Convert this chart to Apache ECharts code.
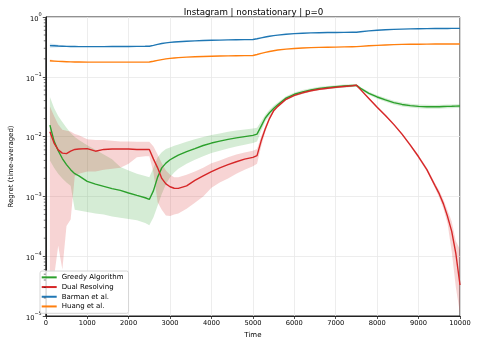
<!DOCTYPE html>
<html><head><meta charset="utf-8">
<script src="https://cdn.jsdelivr.net/npm/echarts@6/dist/echarts.min.js"></script>
<style>html,body{margin:0;padding:0;background:#fff}#c{width:478px;height:344px}</style>
</head><body><div id="c"></div>
<script>
const titleText = 'Instagram | nonstationary | p=0';
const seriesNames = ['Greedy Algorithm', 'Dual Resolving', 'Barman et al.', 'Huang et al.'];
const xTicks = [0,1000,2000,3000,4000,5000,6000,7000,8000,9000,10000];

const T = [100,200,300,400,500,600,700,800,1000,1200,1400,1600,1800,2000,2200,2400,2500,2600,2700,2800,2900,3000,3100,3200,3400,3600,3800,4000,4200,4400,4600,4800,5000,5100,5200,5300,5400,5500,5600,5800,6000,6200,6400,6600,6800,7000,7200,7400,7500,7600,7800,8000,8200,8400,8600,8800,9000,9200,9400,9500,9600,9700,9800,9900,10000];

const greedy = [0.0156,0.0084,0.0058,0.0043,0.0034,0.0028,0.0024,0.0022,0.00178,0.0016,0.00147,0.00135,0.00126,0.00114,0.00104,0.00095,0.00089,0.00125,0.0021,0.0030,0.0036,0.0041,0.0045,0.0049,0.0056,0.0063,0.0071,0.0078,0.0084,0.0090,0.0095,0.0100,0.0105,0.0110,0.0150,0.0205,0.0250,0.0295,0.0340,0.0440,0.0510,0.0560,0.0605,0.0640,0.0665,0.0685,0.0700,0.0715,0.0720,0.0640,0.0530,0.0460,0.0410,0.0370,0.0345,0.0330,0.0320,0.0316,0.0315,0.0316,0.0318,0.0320,0.0321,0.0323,0.0325];
const greedyLo = [0.004,0.003,0.0024,0.0020,0.0017,0.0015,0.0006,0.00058,0.00055,0.00052,0.0005,0.00046,0.00044,0.00042,0.0004,0.00036,0.00033,0.00045,0.0007,0.0011,0.0016,0.0021,0.0025,0.0029,0.0035,0.0041,0.0047,0.0053,0.0058,0.0063,0.0068,0.0073,0.0078,0.0083,0.0125,0.0180,0.0222,0.0265,0.031,0.0408,0.0475,0.0522,0.0566,0.0600,0.0625,0.0645,0.0662,0.0678,0.0685,0.0605,0.0498,0.0430,0.0382,0.0344,0.0320,0.0306,0.0297,0.0293,0.0292,0.0293,0.0295,0.0297,0.0298,0.0300,0.0302];
const greedyHi = [0.046,0.030,0.022,0.0175,0.014,0.0115,0.0098,0.0088,0.0072,0.0060,0.0050,0.0042,0.0031,0.0027,0.0024,0.0022,0.0021,0.0030,0.0045,0.0055,0.0062,0.0066,0.0070,0.0074,0.0082,0.0090,0.0098,0.0106,0.0113,0.0120,0.0126,0.0131,0.0136,0.0140,0.0180,0.0232,0.0280,0.0328,0.037,0.0473,0.0548,0.0600,0.0645,0.0680,0.0705,0.0725,0.0740,0.0753,0.0757,0.0677,0.0565,0.0493,0.0440,0.0398,0.0372,0.0355,0.0344,0.0340,0.0339,0.0340,0.0342,0.0344,0.0345,0.0347,0.0349];

const dual = [0.0121,0.0078,0.0060,0.0053,0.0052,0.0057,0.0061,0.0062,0.0063,0.0057,0.0061,0.0062,0.0062,0.0062,0.0061,0.0061,0.0061,0.0042,0.0030,0.0020,0.00162,0.00145,0.00137,0.00136,0.00150,0.00185,0.0022,0.0026,0.0030,0.0034,0.0038,0.0042,0.0045,0.0048,0.0085,0.0135,0.0200,0.0270,0.0320,0.0420,0.0490,0.0540,0.0585,0.0620,0.0645,0.0667,0.0690,0.0710,0.0725,0.0610,0.0435,0.0310,0.0225,0.0160,0.0110,0.0072,0.0046,0.0028,0.0015,0.0011,0.00075,0.00046,0.00026,0.00011,0.000033];
const dualLo = [0.00005,0.000045,0.00015,0.00006,0.00032,0.00041,0.0022,0.0024,0.0026,0.0026,0.0028,0.0029,0.0030,0.0035,0.0045,0.0047,0.0047,0.0025,0.0008,0.0006,0.00048,0.00047,0.0005,0.00052,0.00062,0.00078,0.0010,0.0014,0.0017,0.0020,0.0024,0.0028,0.0032,0.0035,0.0068,0.0120,0.0185,0.0255,0.0305,0.0402,0.0470,0.0518,0.0562,0.0596,0.0620,0.0641,0.0664,0.0683,0.0698,0.0587,0.0418,0.0298,0.0216,0.0153,0.0105,0.0068,0.0043,0.0026,0.00135,0.00095,0.00062,0.00035,0.00012,0.00003,0.000011];
const dualHi = [0.032,0.022,0.016,0.013,0.0125,0.0122,0.011,0.0105,0.0090,0.0088,0.0088,0.0085,0.0083,0.0083,0.0082,0.0082,0.0082,0.0068,0.0050,0.0036,0.0027,0.0023,0.0021,0.0021,0.0023,0.0026,0.0030,0.0036,0.0040,0.0045,0.0050,0.0054,0.0058,0.0062,0.0100,0.0150,0.0215,0.0285,0.0335,0.0438,0.0510,0.0562,0.0608,0.0644,0.0670,0.0693,0.0716,0.0737,0.0752,0.0633,0.0452,0.0322,0.0234,0.0167,0.0115,0.0076,0.0049,0.0030,0.00165,0.00125,0.00088,0.00058,0.00038,0.00018,0.00013];

const barman = [0.332,0.330,0.327,0.325,0.323,0.322,0.321,0.320,0.320,0.320,0.320,0.321,0.321,0.322,0.323,0.324,0.325,0.335,0.348,0.360,0.370,0.377,0.382,0.386,0.393,0.399,0.404,0.408,0.411,0.414,0.416,0.418,0.420,0.432,0.447,0.462,0.476,0.488,0.498,0.515,0.527,0.536,0.542,0.546,0.549,0.551,0.553,0.555,0.556,0.566,0.585,0.600,0.612,0.621,0.628,0.633,0.637,0.640,0.642,0.643,0.644,0.644,0.645,0.645,0.646];
const huang = [0.185,0.183,0.181,0.180,0.179,0.178,0.177,0.177,0.176,0.176,0.176,0.176,0.176,0.176,0.176,0.176,0.177,0.182,0.188,0.194,0.199,0.203,0.206,0.209,0.213,0.216,0.219,0.221,0.223,0.224,0.225,0.226,0.227,0.236,0.246,0.256,0.265,0.273,0.280,0.290,0.298,0.303,0.307,0.310,0.312,0.314,0.316,0.318,0.319,0.323,0.330,0.336,0.341,0.345,0.348,0.350,0.351,0.352,0.353,0.353,0.353,0.354,0.354,0.354,0.354];

const startT = [100,200,300,400,500,600,700,800,1000];
const barmanLo = [0.305,0.310,0.313,0.315,0.316,0.317,0.317,0.317,0.317];
const barmanHi = [0.362,0.352,0.343,0.336,0.331,0.328,0.325,0.323,0.323];
const huangLo = [0.176,0.177,0.177,0.177,0.177,0.176,0.175,0.175,0.174];
const huangHi = [0.196,0.190,0.186,0.184,0.182,0.180,0.179,0.179,0.178];

const colors = ['#2ca02c', '#d62728', '#1f77b4', '#ff7f0e'];
const FONT = 'DejaVu Sans';

function band(xs, lo, hi, fill) {
  return {
    type: 'custom', silent: true, z: 1,
    data: [[xs[0], hi[0]]],
    renderItem: function (params, api) {
      const pts = [];
      for (let i = 0; i < xs.length; i++) pts.push(api.coord([xs[i], hi[i]]));
      for (let i = xs.length - 1; i >= 0; i--) pts.push(api.coord([xs[i], lo[i]]));
      const cs = params.coordSys;
      return {
        type: 'polygon', shape: { points: pts }, style: { fill: fill, stroke: null },
        clipPath: { type: 'rect', shape: { x: cs.x, y: cs.y, width: cs.width, height: cs.height } }
      };
    }
  };
}

function minorTicks() {
  return {
    type: 'custom', silent: true, z: 5,
    data: [[xTicks[0], 1]],
    renderItem: function (params, api) {
      const cs = params.coordSys;
      const children = [];
      for (let k = -5; k < 0; k++) {
        for (let m = 2; m <= 9; m++) {
          const y = api.coord([xTicks[0], m * Math.pow(10, k)])[1];
          children.push({ type: 'line', shape: { x1: cs.x - 2, y1: y, x2: cs.x, y2: y }, style: { stroke: '#222', lineWidth: 0.6 } });
        }
      }
      return { type: 'group', children: children };
    }
  };
}

function line(name, ys, color) {
  return {
    name: name, type: 'line', data: T.map((t, i) => [t, ys[i]]),
    showSymbol: false, symbol: 'none', z: 3,
    lineStyle: { color: color, width: 1.4 }, itemStyle: { color: color },
    emphasis: { disabled: true }, animation: false
  };
}

const chart = echarts.init(document.getElementById('c'), null, { renderer: 'canvas' });
chart.setOption({
  animation: false,
  textStyle: { fontFamily: FONT },
  title: {
    text: titleText, left: 248.5, top: 3, textAlign: 'center',
    textStyle: { fontFamily: FONT, fontSize: 8.7, fontWeight: 'normal', color: '#000' }
  },
  grid: { left: 37, right: 18, top: 17, bottom: 28, show: true, borderColor: '#222', borderWidth: 1, backgroundColor: 'transparent' },
  legend: {
    data: seriesNames, orient: 'vertical', left: 40, top: 271,
    icon: 'rect', itemWidth: 15, itemHeight: 2, itemGap: 0,
    padding: [1.5, 5, 2, 1.7],
    backgroundColor: 'rgba(255,255,255,0.85)', borderColor: '#d6d6d6', borderWidth: 1, borderRadius: 2,
    textStyle: { fontFamily: FONT, fontSize: 7, color: '#000', lineHeight: 9.7 }
  },
  xAxis: {
    type: 'value', min: xTicks[0], max: xTicks[xTicks.length - 1], interval: 1000,
    name: 'Time', nameLocation: 'middle', nameGap: 13,
    nameTextStyle: { fontFamily: FONT, fontSize: 7, color: '#000' },
    axisLine: { show: true, lineStyle: { color: '#222', width: 1 } },
    axisTick: { show: true, length: 3, lineStyle: { color: '#222', width: 0.8 } },
    axisLabel: { fontFamily: FONT, fontSize: 6.7, color: '#000', margin: 4, formatter: function (v) { return String(v); } },
    splitLine: { show: true, lineStyle: { color: '#e9e9e9', width: 0.8 } }
  },
  yAxis: {
    type: 'log', logBase: 10, min: 1e-5, max: 1,
    name: 'Regret (time-averaged)', nameLocation: 'middle', nameGap: 27, nameRotate: 90,
    nameTextStyle: { fontFamily: FONT, fontSize: 7, color: '#000' },
    axisLine: { show: true, lineStyle: { color: '#222', width: 1 } },
    axisTick: { show: true, length: 3, lineStyle: { color: '#222', width: 0.8 } },
    axisLabel: {
      margin: 4, color: '#000',
      formatter: function (v) {
        const e = Math.round(Math.log10(v));
        return '{b|10}{s|' + (e < 0 ? '\u2212' + (-e) : e) + '}';
      },
      rich: {
        b: { fontFamily: FONT, fontSize: 6.7, color: '#000', padding: [4, 0, 0, 0] },
        s: { fontFamily: FONT, fontSize: 5, color: '#000', padding: [0, 0, 4, 0] }
      }
    },
    splitLine: { show: true, lineStyle: { color: '#e9e9e9', width: 0.8 } }
  },
  series: [
    band(T, greedyLo, greedyHi, 'rgba(44,160,44,0.2)'),
    band(T, dualLo, dualHi, 'rgba(214,39,40,0.2)'),
    band(startT, barmanLo, barmanHi, 'rgba(31,119,180,0.2)'),
    band(startT, huangLo, huangHi, 'rgba(255,127,14,0.2)'),
    line(seriesNames[0], greedy, colors[0]),
    line(seriesNames[1], dual, colors[1]),
    line(seriesNames[2], barman, colors[2]),
    line(seriesNames[3], huang, colors[3]),
    minorTicks()
  ]
});
</script>
</body></html>
